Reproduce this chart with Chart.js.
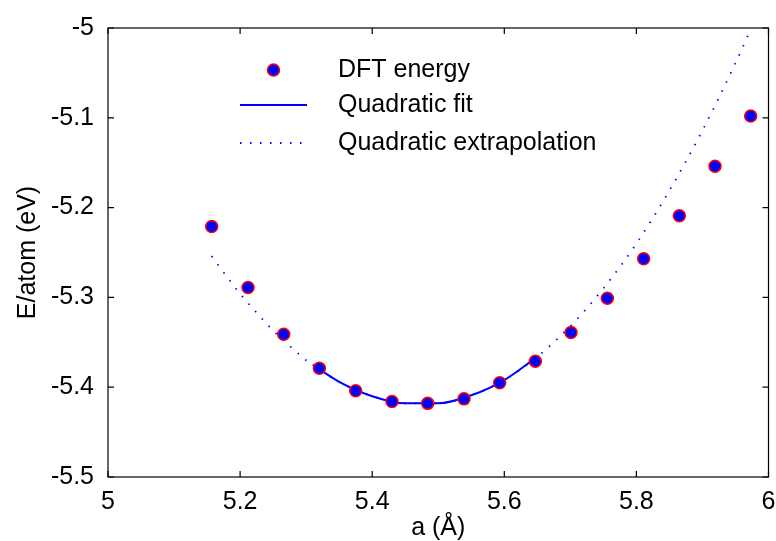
<!DOCTYPE html>
<html>
<head>
<meta charset="utf-8">
<script src="https://cdn.jsdelivr.net/npm/chart.js@4/dist/chart.umd.min.js"></script>
<style>
html,body{margin:0;padding:0;background:#fff;}
#wrap{width:776px;height:541px;}
</style>
</head>
<body>
<div id="wrap"><canvas id="eosChart" width="776" height="541"></canvas></div>
<script>
// lattice constant (Å) and DFT energy per atom (eV)
const aValues = [5.157, 5.212, 5.266, 5.320, 5.375, 5.430, 5.484, 5.539, 5.593, 5.647, 5.701, 5.756, 5.811, 5.865, 5.919, 5.973];
const dftEnergy = [-5.221, -5.289, -5.341, -5.379, -5.404, -5.416, -5.418, -5.413, -5.395, -5.371, -5.339, -5.301, -5.257, -5.209, -5.154, -5.098];

// quadratic fit
const fitA = [5.31, 5.35, 5.40, 5.45, 5.50, 5.55, 5.60, 5.65];
const fitE = [-5.375, -5.394, -5.410, -5.418, -5.418, -5.409, -5.392, -5.366];

// extrapolation
const extrapA = [5.157, 5.175, 5.20, 5.225, 5.25, 5.275, 5.30, 5.35, 5.40, 5.45, 5.50, 5.55, 5.60, 5.65, 5.70, 5.75, 5.80, 5.85, 5.90, 5.95, 5.974];
const extrapE = [-5.254, -5.272, -5.296, -5.317, -5.337, -5.354, -5.370, -5.394, -5.410, -5.418, -5.418, -5.409, -5.392, -5.366, -5.332, -5.290, -5.240, -5.181, -5.114, -5.039, -5.000];

const xTicks = [5, 5.2, 5.4, 5.6, 5.8, 6];
const yTicks = [-5.5, -5.4, -5.3, -5.2, -5.1, -5];

const seriesLabels = ["DFT energy", "Quadratic fit", "Quadratic extrapolation"];

function pairs(xs, ys){
  return xs.map(function(x, i){ return {x: x, y: ys[i]}; });
}

const FONT = "'Liberation Sans', Arial, sans-serif";

// box with inward ticks on all four sides
const frame = {
  id: "frame",
  afterDatasetsDraw: function(chart){
    const ctx = chart.ctx, ca = chart.chartArea;
    const xs = chart.scales.x, ys = chart.scales.y;
    ctx.save();
    ctx.strokeStyle = "#000";
    ctx.lineWidth = 1.2;
    ctx.strokeRect(ca.left, ca.top, ca.right - ca.left, ca.bottom - ca.top);
    ctx.beginPath();
    xTicks.forEach(function(v){
      const px = xs.getPixelForValue(v);
      ctx.moveTo(px, ca.bottom); ctx.lineTo(px, ca.bottom - 6);
      ctx.moveTo(px, ca.top); ctx.lineTo(px, ca.top + 6);
    });
    yTicks.forEach(function(v){
      const py = ys.getPixelForValue(v);
      ctx.moveTo(ca.left, py); ctx.lineTo(ca.left + 6, py);
      ctx.moveTo(ca.right, py); ctx.lineTo(ca.right - 6, py);
    });
    ctx.stroke();
    ctx.restore();
  }
};

// legend drawn inside the axes, matlab style
const insideLegend = {
  id: "insideLegend",
  afterDraw: function(chart){
    const ctx = chart.ctx, ca = chart.chartArea;
    const x0 = ca.left + 132, x1 = ca.left + 199, tx = ca.left + 230;
    const rows = [ca.top + 42, ca.top + 77, ca.top + 115];
    ctx.save();
    // marker
    ctx.beginPath();
    ctx.arc((x0 + x1) / 2, rows[0], 6, 0, Math.PI * 2);
    ctx.fillStyle = "#0000ff"; ctx.fill();
    ctx.lineWidth = 1.5; ctx.strokeStyle = "#ff0000"; ctx.stroke();
    // solid
    ctx.beginPath();
    ctx.moveTo(x0, rows[1]); ctx.lineTo(x1, rows[1]);
    ctx.strokeStyle = "#0000ff"; ctx.lineWidth = 2; ctx.stroke();
    // dotted
    ctx.beginPath();
    ctx.setLineDash([1.5, 8.5]);
    ctx.moveTo(x0, rows[2]); ctx.lineTo(x1, rows[2]);
    ctx.lineWidth = 1.8; ctx.stroke();
    ctx.setLineDash([]);
    ctx.fillStyle = "#000";
    ctx.font = "25px " + FONT;
    ctx.textBaseline = "middle";
    seriesLabels.forEach(function(t, i){ ctx.fillText(t, tx, rows[i]); });
    ctx.restore();
  }
};

function plainLabel(v){ return String(Math.round(v * 10) / 10); }

new Chart(document.getElementById("eosChart"), {
  type: "scatter",
  data: {
    datasets: [
      {
        label: seriesLabels[0],
        data: pairs(aValues, dftEnergy),
        pointRadius: 6,
        pointBackgroundColor: "#0000ff",
        pointBorderColor: "#ff0000",
        pointBorderWidth: 1.5,
        showLine: false
      },
      {
        label: seriesLabels[1],
        data: pairs(fitA, fitE),
        showLine: true,
        pointRadius: 0,
        borderColor: "#0000ff",
        borderWidth: 2,
        cubicInterpolationMode: "monotone"
      },
      {
        label: seriesLabels[2],
        data: pairs(extrapA, extrapE),
        showLine: true,
        pointRadius: 0,
        borderColor: "#0000ff",
        borderWidth: 1.8,
        borderDash: [1.5, 8.5],
        cubicInterpolationMode: "monotone"
      }
    ]
  },
  options: {
    responsive: false,
    animation: false,
    layout: {padding: {left: 0, right: 6, top: 28, bottom: 0}},
    plugins: {legend: {display: false}, tooltip: {enabled: false}},
    scales: {
      x: {
        type: "linear",
        min: 5, max: 6,
        afterBuildTicks: function(s){ s.ticks = xTicks.map(function(v){ return {value: v}; }); },
        afterFit: function(s){ s.height = 64; s.paddingLeft = 0; s.paddingRight = 0; },
        grid: {display: false},
        border: {display: false},
        ticks: {color: "#000", padding: 2, font: {family: FONT, size: 25}, maxRotation: 0, callback: plainLabel},
        title: {display: true, text: "a (Å)", color: "#000", font: {family: FONT, size: 25, lineHeight: 1}, padding: {top: 0, bottom: 0}}
      },
      y: {
        type: "linear",
        min: -5.5, max: -5,
        afterBuildTicks: function(s){ s.ticks = yTicks.map(function(v){ return {value: v}; }); },
        afterFit: function(s){ s.width = 108; s.paddingTop = 0; s.paddingBottom = 0; },
        grid: {display: false},
        border: {display: false},
        ticks: {color: "#000", padding: 6, font: {family: FONT, size: 25}, callback: plainLabel},
        title: {display: true, text: "E/atom (eV)", color: "#000", font: {family: FONT, size: 25}, padding: {top: 13, bottom: 0}}
      }
    }
  },
  plugins: [frame, insideLegend]
});
</script>
</body>
</html>
